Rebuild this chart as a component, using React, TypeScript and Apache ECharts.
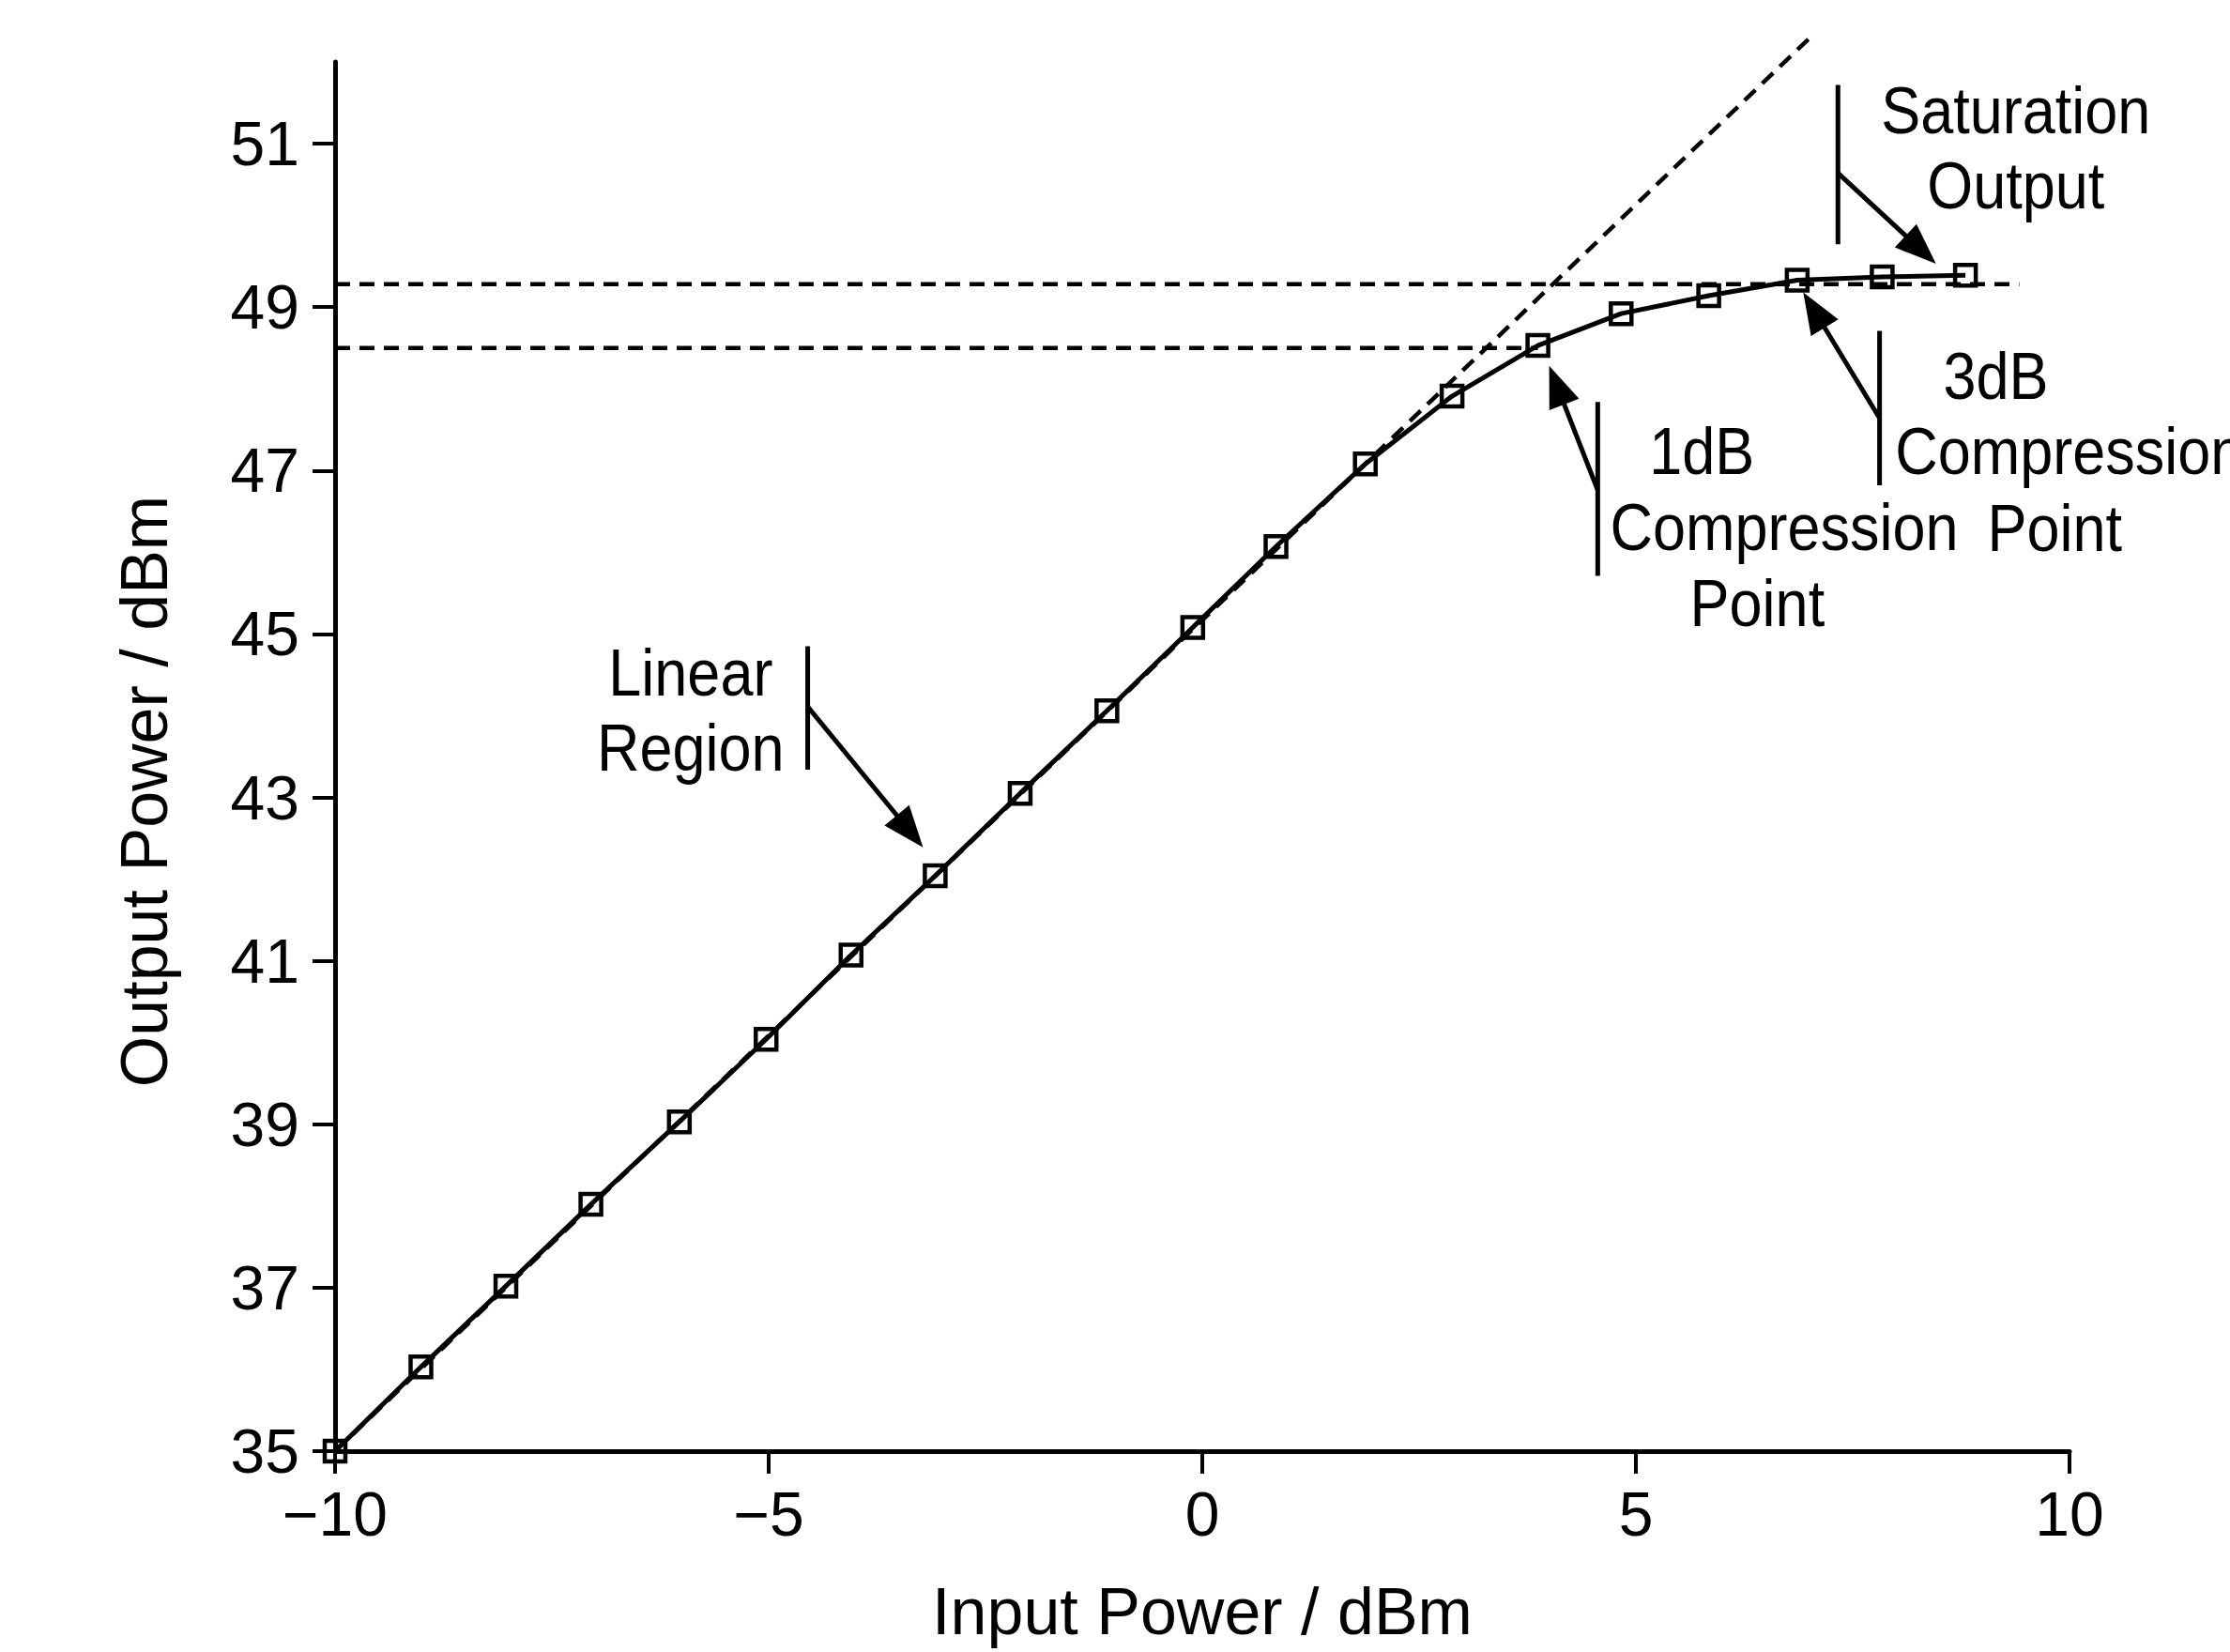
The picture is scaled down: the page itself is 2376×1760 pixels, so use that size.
import { useEffect, useRef } from "react";
import * as echarts from "echarts";

// measured curve (input dBm -> output dBm)
const inputPower = [-10, -9.01, -8.03, -7.05, -6.03, -5.03, -4.05, -3.08, -2.1, -1.1, -0.11, 0.85, 1.88, 2.88, 3.87, 4.83, 5.84, 6.86, 7.84, 8.8];
const outputPower = [35.0, 36.03, 37.02, 38.02, 39.03, 40.04, 41.07, 42.04, 43.05, 44.06, 45.08, 46.07, 47.08, 47.91, 48.53, 48.92, 49.14, 49.33, 49.37, 49.39];

// ideal linear extension
const linearX = [-10, 7.06];
const linearY = [35, 52.35];

// horizontal reference levels
const satLevel = 49.28;
const satLineEnd = 9.42;
const p1dBLevel = 48.5;
const p1dBLineEnd = 3.87;

const xTicks = [-10, -5, 0, 5, 10];
const yTicks = [35, 37, 39, 41, 43, 45, 47, 49, 51];

// callouts in data units: bar x, bar top, bar bottom, arrow start y, arrow tip
const barX = [-4.55, 7.33, 4.56, 7.81];
const barTop = [44.85, 51.72, 47.84, 48.71];
const barBottom = [43.34, 49.77, 45.71, 46.82];
const arrowFromY = [44.11, 50.64, 46.76, 47.64];
const arrowTipX = [-3.22, 8.46, 4.0, 6.93];
const arrowTipY = [42.39, 49.53, 48.28, 49.18];

const noteText = ["Linear", "Region", "Saturation", "Output", "1dB", "Compression", "Point", "3dB", "Compression", "Point"];
const noteX = [-5.9, -5.9, 9.38, 9.38, 5.76, 6.71, 6.4, 9.15, 7.99, 9.83];
const noteY = [44.53, 43.61, 51.41, 50.49, 47.23, 46.31, 45.38, 48.15, 47.23, 46.29];
const noteAlign = ["center", "center", "center", "center", "center", "center", "center", "center", "left", "center"];

const FONT = '"Liberation Sans", Arial, Helvetica, sans-serif';
const INK = "#000";

const fmt = (v: number) => (v < 0 ? "\u2212" + Math.abs(v) : String(v));

export default function App() {
  const ref = useRef<HTMLDivElement>(null);

  useEffect(() => {
    const el = ref.current;
    if (!el) return;
    const chart = echarts.init(el, undefined, { renderer: "svg" });

    const dashed = { color: INK, width: 4.5, type: [16, 10] as number[] };

    chart.setOption({
      animation: false,
      backgroundColor: "#fff",
      grid: { left: 357, right: 171, top: 66, bottom: 214 },
      xAxis: {
        type: "value",
        min: -10,
        max: 10,
        interval: 5,
        name: "Input Power / dBm",
        nameLocation: "middle",
        nameGap: 136,
        nameTextStyle: { color: INK, fontSize: 70, fontFamily: FONT },
        axisLine: { onZero: false, lineStyle: { color: INK, width: 5 } },
        axisTick: { length: 24, lineStyle: { color: INK, width: 4 }, customValues: xTicks },
        axisLabel: { color: INK, fontSize: 66, fontFamily: FONT, margin: 34, formatter: fmt, customValues: xTicks },
        splitLine: { show: false },
      },
      yAxis: {
        type: "value",
        min: 35,
        max: 52,
        name: "Output Power / dBm",
        nameLocation: "middle",
        nameGap: 168,
        nameTextStyle: { color: INK, fontSize: 70, fontFamily: FONT, padding: [0, 74, 0, 0] },
        axisLine: { show: true, onZero: false, lineStyle: { color: INK, width: 5 } },
        axisTick: { show: true, length: 24, lineStyle: { color: INK, width: 4 }, customValues: yTicks },
        axisLabel: { color: INK, fontSize: 66, fontFamily: FONT, margin: 38, formatter: fmt, customValues: yTicks },
        splitLine: { show: false },
      },
      series: [
        {
          type: "line",
          data: linearX.map((x, i) => [x, linearY[i]]),
          symbol: "none",
          clip: false,
          lineStyle: dashed,
          z: 1,
        },
        {
          type: "line",
          data: [[-10, satLevel], [satLineEnd, satLevel]],
          symbol: "none",
          lineStyle: dashed,
          z: 1,
        },
        {
          type: "line",
          data: [[-10, p1dBLevel], [p1dBLineEnd, p1dBLevel]],
          symbol: "none",
          lineStyle: dashed,
          z: 1,
        },
        {
          type: "line",
          data: inputPower.map((x, i) => [x, outputPower[i]]),
          symbol: "rect",
          symbolSize: 22,
          clip: false,
          lineStyle: { color: INK, width: 5 },
          itemStyle: { color: "rgba(0,0,0,0)", borderColor: INK, borderWidth: 4.5 },
          z: 3,
        },
      ],
    });

    // callouts are placed through the grid's own scales
    const px = (x: number, y: number) => chart.convertToPixel({ gridIndex: 0 }, [x, y]) as number[];
    const graphics: any[] = [];
    barX.forEach((bx, i) => {
      const t = px(bx, barTop[i]);
      const b = px(bx, barBottom[i]);
      graphics.push({ type: "line", shape: { x1: t[0], y1: t[1], x2: b[0], y2: b[1] }, style: { stroke: INK, lineWidth: 5 } });
      const s = px(bx, arrowFromY[i]);
      const tip = px(arrowTipX[i], arrowTipY[i]);
      const dx = tip[0] - s[0];
      const dy = tip[1] - s[1];
      const len = Math.hypot(dx, dy);
      const ux = dx / len;
      const uy = dy / len;
      const headL = 44;
      const headW = 34;
      const bxp = tip[0] - ux * headL;
      const byp = tip[1] - uy * headL;
      graphics.push({ type: "line", shape: { x1: s[0], y1: s[1], x2: bxp + ux * 4, y2: byp + uy * 4 }, style: { stroke: INK, lineWidth: 5 } });
      graphics.push({
        type: "polygon",
        shape: {
          points: [
            [tip[0], tip[1]],
            [bxp - uy * headW / 2, byp + ux * headW / 2],
            [bxp + uy * headW / 2, byp - ux * headW / 2],
          ],
        },
        style: { fill: INK },
      });
    });
    noteText.forEach((txt, i) => {
      const p = px(noteX[i], noteY[i]);
      graphics.push({
        type: "text",
        x: p[0],
        y: p[1],
        scaleX: 0.9,
        style: { text: txt, fill: INK, fontSize: 70, fontFamily: FONT, align: noteAlign[i], verticalAlign: "middle" },
      });
    });
    chart.setOption({ graphic: graphics });

    return () => {
      chart.dispose();
    };
  }, []);

  return <div ref={ref} style={{ position: "absolute", left: 0, top: 0, width: 2376, height: 1760, background: "#fff" }} />;
}
